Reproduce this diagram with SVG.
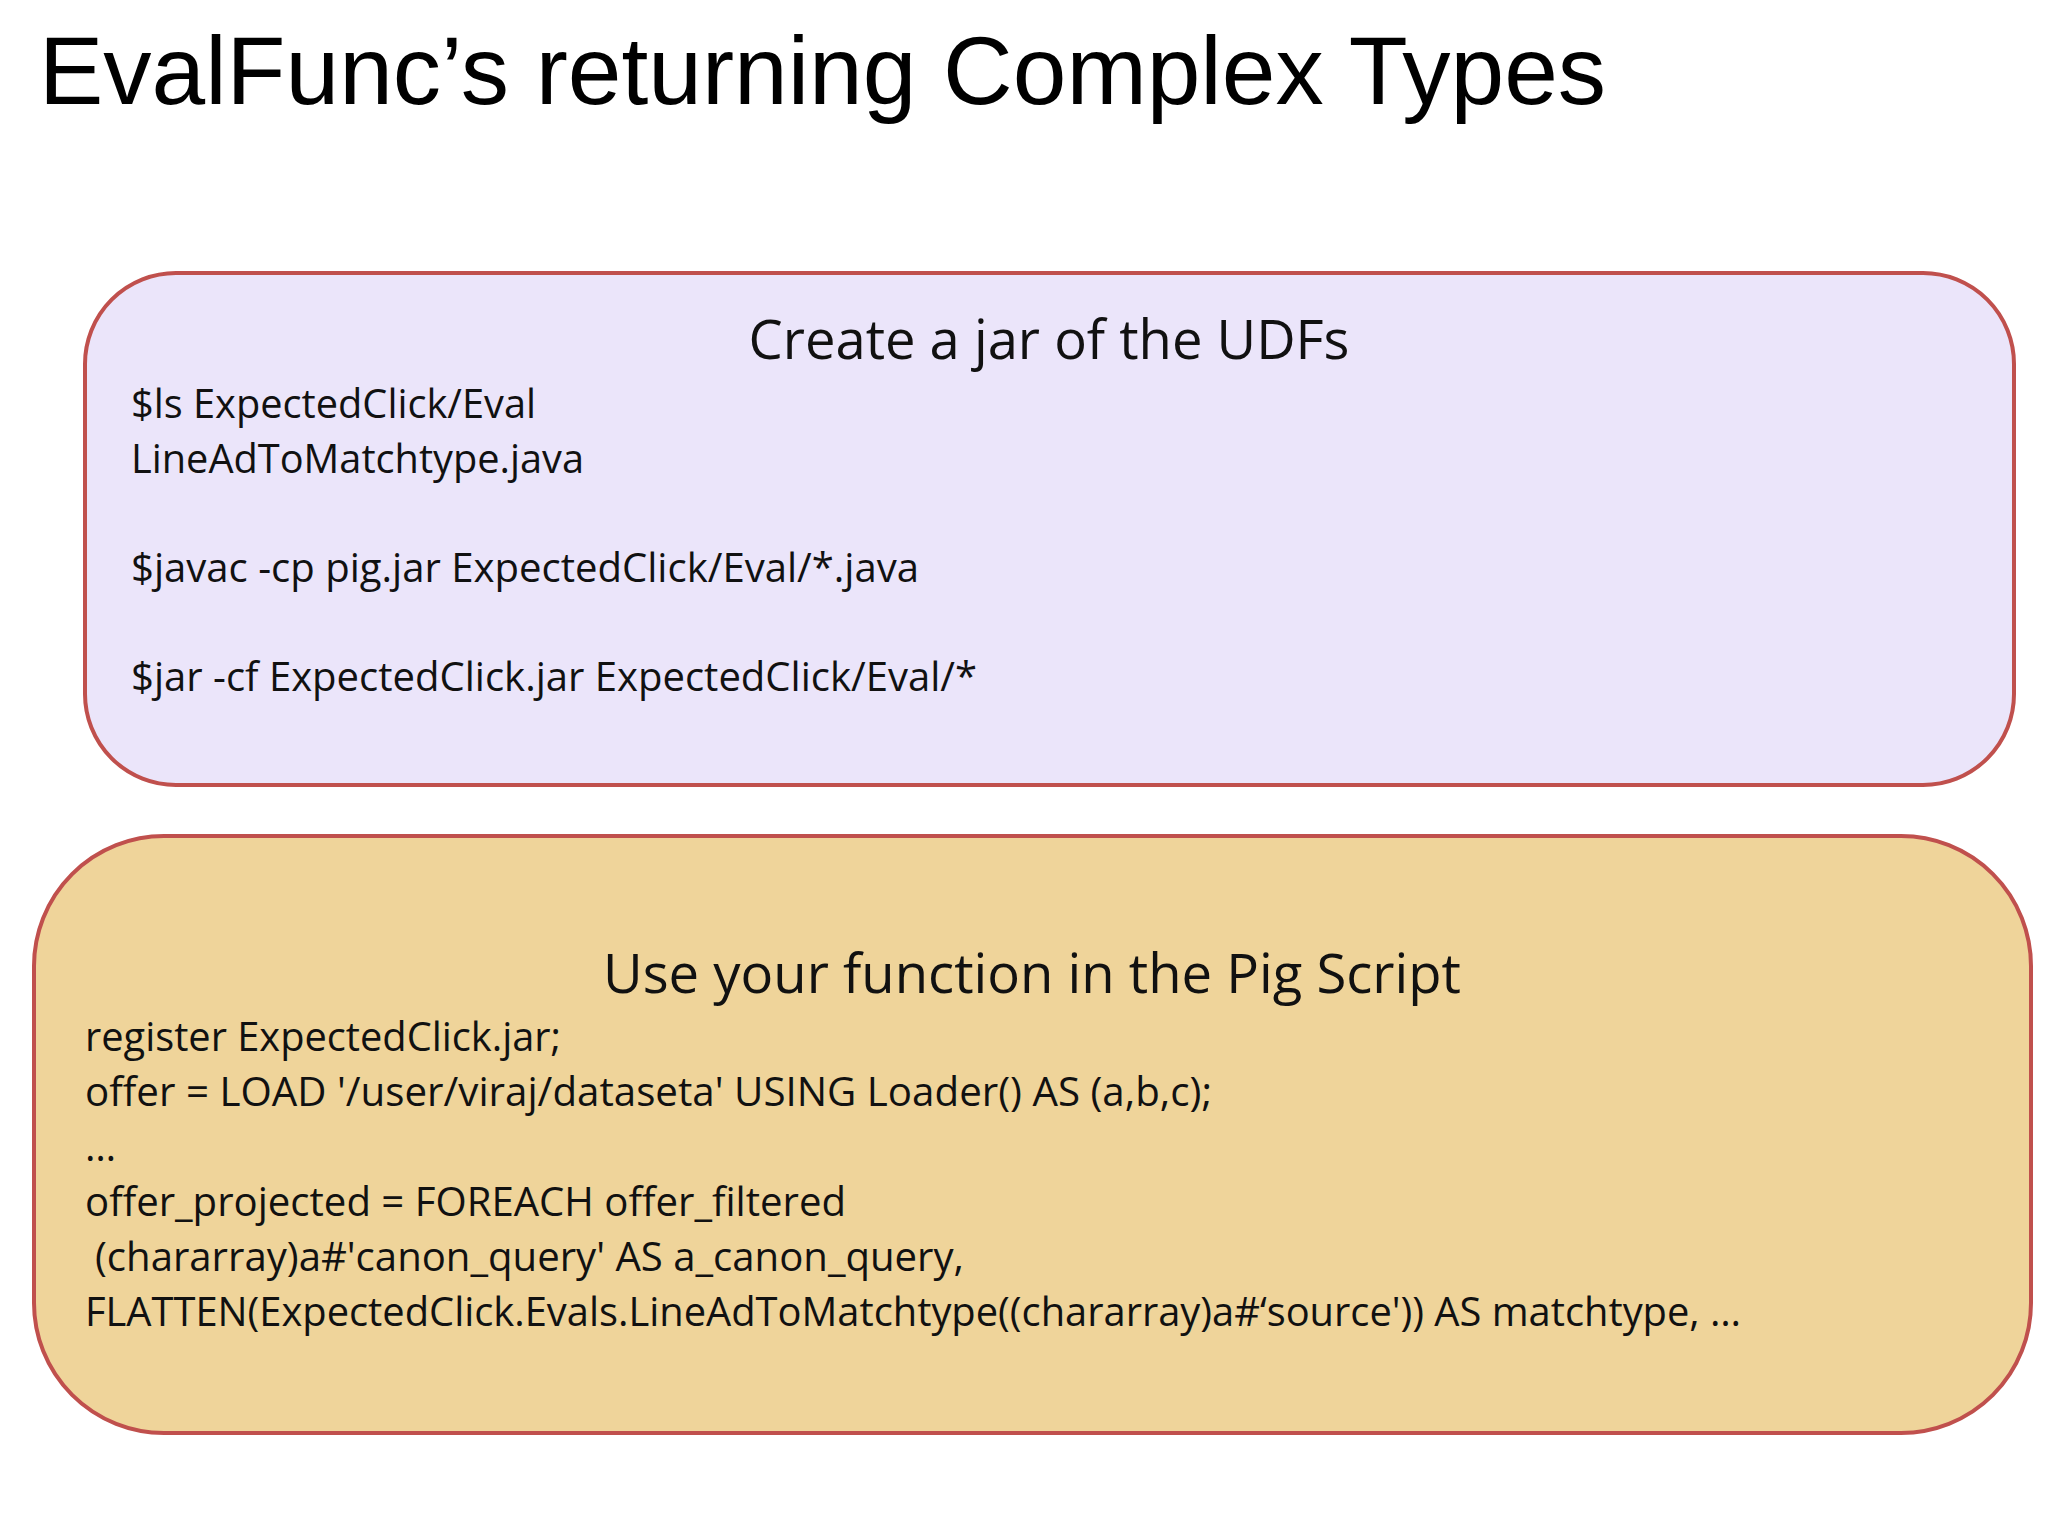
<svg xmlns="http://www.w3.org/2000/svg" width="2048" height="1536" viewBox="0 0 2048 1536">
<style>
.t{font-family:"Open Sans","Noto Sans",sans-serif;fill:#111;}
.h{font-size:55px;text-anchor:middle}
.c{font-size:40px}
</style>
<rect width="2048" height="1536" fill="#fff"/>
<text x="39" y="104" font-family="Liberation Sans, Arial, sans-serif" font-size="96" textLength="1567" lengthAdjust="spacingAndGlyphs" fill="#000">EvalFunc’s returning Complex Types</text>
<g id="box1">
<rect x="85" y="273" width="1929" height="512" rx="91" fill="#ebe5fa" stroke="#c0504d" stroke-width="4"/>
<text class="t h" x="1049" y="359" textLength="601" lengthAdjust="spacingAndGlyphs">Create a jar of the UDFs</text>
<text class="t c" x="131" y="418" textLength="405" lengthAdjust="spacingAndGlyphs">$ls ExpectedClick/Eval</text>
<text class="t c" x="131" y="473" textLength="453" lengthAdjust="spacingAndGlyphs">LineAdToMatchtype.java</text>
<text class="t c" x="131" y="582" textLength="788" lengthAdjust="spacingAndGlyphs">$javac -cp pig.jar ExpectedClick/Eval/*.java</text>
<text class="t c" x="131" y="691" textLength="846" lengthAdjust="spacingAndGlyphs">$jar -cf ExpectedClick.jar ExpectedClick/Eval/*</text>
</g>
<g id="box2">
<rect x="34" y="836" width="1997" height="597" rx="130" fill="#efd49a" stroke="#c0504d" stroke-width="4"/>
<text class="t h" x="1032" y="993" textLength="858" lengthAdjust="spacingAndGlyphs">Use your function in the Pig Script</text>
<text class="t c" x="85" y="1051" textLength="476" lengthAdjust="spacingAndGlyphs">register ExpectedClick.jar;</text>
<text class="t c" x="85" y="1106" textLength="1127" lengthAdjust="spacingAndGlyphs">offer = LOAD '/user/viraj/dataseta' USING Loader() AS (a,b,c);</text>
<text class="t c" x="85" y="1161">…</text>
<text class="t c" x="85" y="1216" textLength="761" lengthAdjust="spacingAndGlyphs">offer_projected = FOREACH offer_filtered</text>
<text class="t c" x="95" y="1271" textLength="869" lengthAdjust="spacingAndGlyphs">(chararray)a#'canon_query' AS a_canon_query,</text>
<text class="t c" x="85" y="1326" textLength="1656" lengthAdjust="spacingAndGlyphs">FLATTEN(ExpectedClick.Evals.LineAdToMatchtype((chararray)a#‘source')) AS matchtype, …</text>
</g>
<g id="connectors"/>
</svg>
